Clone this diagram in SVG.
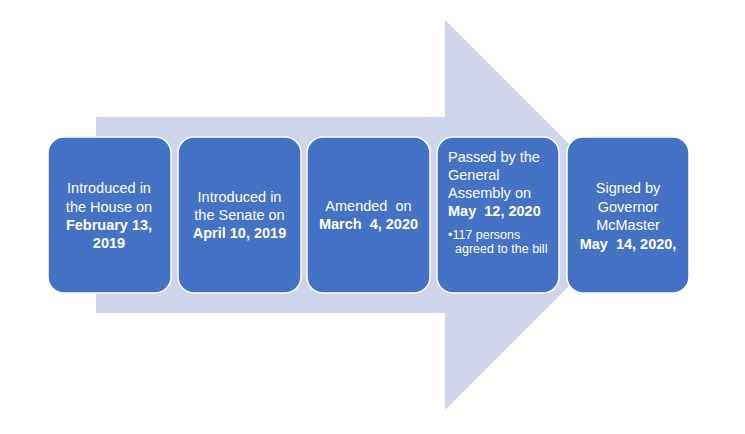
<svg xmlns="http://www.w3.org/2000/svg" width="745" height="434" viewBox="0 0 745 434">
<style>
.box{fill:#4472C4;stroke:#FFFFFF;stroke-width:1.5}
.t{font-family:"Liberation Sans",Arial,sans-serif;font-size:14.5px;fill:#FFFFFF}
.c{text-anchor:middle}
.b{font-weight:bold}
.s{font-size:12.5px}
</style>
<rect x="0" y="0" width="745" height="434" fill="#FFFFFF"/>
<g id="arrow">
<polygon points="96,117 445,117 445,20 640,215 445,410 445,313 96,313" fill="#CFD5EA"/>
</g>
<g id="connectors"></g>
<g id="step1">
<rect class="box" x="48" y="137" width="123" height="156" rx="16"/>
<text class="t c" x="109" y="193">Introduced in</text>
<text class="t c" x="109" y="212">the House on</text>
<text class="t c b" x="109" y="230">February 13,</text>
<text class="t c b" x="109" y="248">2019</text>
</g>
<g id="step2">
<rect class="box" x="178" y="137" width="123" height="156" rx="16"/>
<text class="t c" x="239.5" y="202">Introduced in</text>
<text class="t c" x="239.5" y="220">the Senate on</text>
<text class="t c b" x="239.5" y="238">April 10, 2019</text>
</g>
<g id="step3">
<rect class="box" x="307" y="137" width="123" height="156" rx="16"/>
<text class="t c" x="368.5" y="211" xml:space="preserve">Amended  on</text>
<text class="t c b" x="368.5" y="229" xml:space="preserve">March  4, 2020</text>
</g>
<g id="step4">
<rect class="box" x="437" y="137" width="122" height="156" rx="16"/>
<text class="t" x="448" y="162">Passed by the</text>
<text class="t" x="448" y="180">General</text>
<text class="t" x="448" y="198">Assembly on</text>
<text class="t b" x="448" y="216" xml:space="preserve">May  12, 2020</text>
<text class="t s" x="448" y="239">•117 persons</text>
<text class="t s" x="455" y="253">agreed to the bill</text>
</g>
<g id="step5">
<rect class="box" x="567" y="137" width="122" height="156" rx="16"/>
<text class="t c" x="628" y="193">Signed by</text>
<text class="t c" x="628" y="212">Governor</text>
<text class="t c" x="628" y="230">McMaster</text>
<text class="t c b" x="628" y="249" xml:space="preserve">May  14, 2020,</text>
</g>
</svg>
